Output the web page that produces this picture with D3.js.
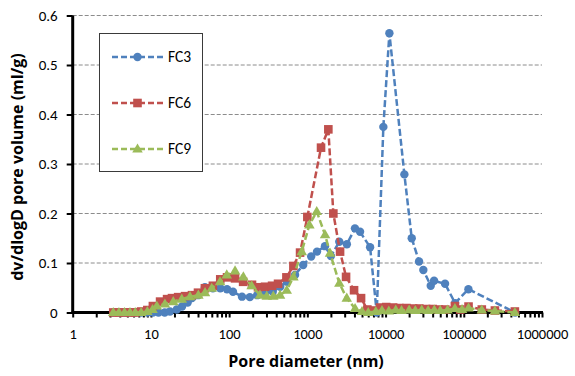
<!DOCTYPE html>
<html><head><meta charset="utf-8">
<script src="https://cdn.jsdelivr.net/npm/d3@7"></script>
<style>
body{margin:0;background:#fff;}
svg{display:block;font-family:Carlito,Calibri,Lato,"Open Sans",sans-serif;}
</style></head>
<body><svg id="c" width="575" height="376"></svg>
<script>
const seriesNames = ["FC3", "FC6", "FC9"];
const seriesColors = ["#4F81BD", "#C0504D", "#9BBB59"];

const fc3D = [3.3,3.9,4.6,5.4,6.3,7.5,9.0,10.6,12.5,15.0,17.5,21.4,25.0,29.5,33.5,40,49,62,77,94,112,146,184,228,288,361,450,550,696,885,1120,1330,1680,2000,2560,3200,4060,4720,6340,7710,9370,11190,17400,21600,26800,30400,37800,41700,57600,77400,114600,453000];
const fc3V = [0,0,0,0,0,0,0,0,0,0,0.002,0.006,0.012,0.02,0.029,0.035,0.051,0.049,0.049,0.047,0.042,0.032,0.031,0.035,0.039,0.042,0.052,0.062,0.076,0.096,0.113,0.123,0.134,0.114,0.143,0.138,0.17,0.163,0.132,0,0.375,0.564,0.279,0.15,0.103,0.086,0.054,0.064,0.058,0.019,0.047,0];

const fc6D = [3.3,3.9,4.6,5.4,6.3,7.5,9.0,10.6,13.1,16.1,18.6,22.3,27.3,33.5,40,49,62,77,94,119,151,196,234,288,354,422,540,663,807,1000,1496,1855,2150,2620,3125,3955,4860,5850,7000,8500,10200,12500,15000,18500,22500,27000,33000,40000,48000,58000,77000,90000,115000,170000,250000,450000];
const fc6V = [0,0,0,0,0,0.002,0.005,0.013,0.022,0.027,0.029,0.031,0.033,0.035,0.04,0.049,0.054,0.067,0.071,0.069,0.062,0.056,0.051,0.052,0.054,0.058,0.071,0.094,0.121,0.193,0.333,0.37,0.2,0.123,0.072,0.045,0.029,0.006,0.004,0.01,0.011,0.01,0.009,0.009,0.008,0.008,0.007,0.007,0.006,0.006,0.013,0.006,0.012,0.006,0.004,0.002];

const fc9D = [3.3,3.9,4.6,5.4,6.3,7.5,9.0,10.5,11.9,15.1,19.3,24.8,31.6,40.4,49.2,59.9,76.5,93.2,119,152,194,248,303,367,448,545,663,848,1062,1318,1684,1950,2565,3190,4075,5000,6000,7500,9000,11000,13500,16000,20000,24000,29000,35000,42000,50000,62000,77000,95000,115000,170000,250000,450000];
const fc9V = [0,0,0,0,0,0,0.002,0.006,0.013,0.017,0.022,0.027,0.032,0.035,0.04,0.049,0.062,0.076,0.084,0.072,0.054,0.035,0.033,0.033,0.035,0.045,0.072,0.123,0.177,0.204,0.157,0.12,0.059,0.029,0.008,0.002,0,0.002,0.004,0.003,0.005,0.004,0.005,0.004,0.005,0.004,0.005,0.004,0.005,0.008,0.006,0.009,0.005,0.003,0];

const xMajorTicks = [1,10,100,1000,10000,100000,1000000];
const xTickLabels = ["1","10","100","1000","10000","100000","1000000"];
const yTicks = [0,0.1,0.2,0.3,0.4,0.5,0.6];
const yTickLabels = ["0","0.1","0.2","0.3","0.4","0.5","0.6"];
const xTitle = "Pore diameter (nm)";
const yTitle = "dv/dlogD pore volume (ml/g)";

const svg = d3.select("#c");
const L = 72.7, R = 542, T = 15.5, B = 312.5;
const x = d3.scaleLog().domain([1, 1e6]).range([L, R]);
const y = d3.scaleLinear().domain([0, 0.6]).range([B, T]);

// gridlines
svg.append("g").selectAll("line").data(yTicks.slice(1)).join("line")
  .attr("x1", L).attr("x2", R).attr("y1", d => y(d)).attr("y2", d => y(d))
  .attr("stroke", "#8c8c8c").attr("stroke-width", 1).attr("stroke-dasharray", "4,2");

// minor ticks list
const allTicks = [];
for (let e = 0; e < 6; e++) for (let m = 1; m < 10; m++) allTicks.push(m * Math.pow(10, e));
allTicks.push(1e6);

const xAxis = d3.axisBottom(x).tickValues(allTicks).tickSize(5).tickPadding(11)
  .tickFormat(d => { const i = xMajorTicks.indexOf(d); return i >= 0 ? xTickLabels[i] : ""; });
const gx = svg.append("g").attr("transform", `translate(0,${B})`).call(xAxis);
gx.select(".domain").attr("stroke", "#000").attr("stroke-width", 3).attr("d", `M${L-1},0H${R+1}`);
gx.selectAll(".tick line").attr("stroke", "#000").attr("stroke-width", 2);
gx.selectAll(".tick text").attr("font-size", 14.5).attr("fill", "#000").attr("font-family", "Carlito,Calibri,Lato,sans-serif");

const yAxis = d3.axisLeft(y).tickValues(yTicks).tickSize(6).tickPadding(9)
  .tickFormat((d, i) => yTickLabels[i]);
const gy = svg.append("g").attr("transform", `translate(${L},0)`).call(yAxis);
gy.select(".domain").attr("stroke", "#000").attr("stroke-width", 3).attr("d", `M0,${B+1}V${T}`);
gy.selectAll(".tick line").attr("stroke", "#000").attr("stroke-width", 2);
gy.selectAll(".tick text").attr("font-size", 15).attr("fill", "#000").attr("font-family", "Carlito,Calibri,Lato,sans-serif");

// titles
svg.append("text").attr("x", 306).attr("y", 367).attr("text-anchor", "middle")
  .attr("font-family", "'Open Sans',sans-serif")
  .attr("font-size", 16).attr("font-weight", "bold").text(xTitle);
svg.append("text").attr("transform", "translate(23,167) rotate(-90)").attr("text-anchor", "middle")
  .attr("font-family", "'Open Sans',sans-serif")
  .attr("font-size", 16).attr("font-weight", "bold").text(yTitle);

// markers
function marker(g, type, color, cx, cy) {
  if (type === 0) g.append("circle").attr("cx", cx).attr("cy", cy).attr("r", 4.2).attr("fill", color);
  else if (type === 1) g.append("rect").attr("x", cx - 4.3).attr("y", cy - 4.3).attr("width", 8.6).attr("height", 8.6).attr("fill", color);
  else g.append("path").attr("d", d3.symbol().type(d3.symbolTriangle).size(48)()).attr("transform", `translate(${cx},${cy+0.5})`).attr("fill", color);
}

const series = [[fc3D, fc3V], [fc6D, fc6V], [fc9D, fc9V]];
const line = d3.line().x(d => x(d[0])).y(d => y(d[1]));
series.forEach((s, i) => {
  const pts = s[0].map((d, k) => [d, s[1][k]]);
  const g = svg.append("g");
  g.append("path").attr("d", line(pts)).attr("fill", "none").attr("stroke", seriesColors[i])
    .attr("stroke-width", 2.5).attr("stroke-dasharray", "7,3");
  pts.forEach(p => marker(g, i, seriesColors[i], x(p[0]), y(p[1])));
});

// legend
const lg = svg.append("g");
lg.append("rect").attr("x", 99.5).attr("y", 33.5).attr("width", 103).attr("height", 138)
  .attr("fill", "#fff").attr("stroke", "#3a3a3a").attr("stroke-width", 1);
const legY = [57, 103, 149];
seriesNames.forEach((n, i) => {
  lg.append("line").attr("x1", 112).attr("x2", 163).attr("y1", legY[i]).attr("y2", legY[i])
    .attr("stroke", seriesColors[i]).attr("stroke-width", 2.5).attr("stroke-dasharray", "6,3");
  marker(lg, i, seriesColors[i], 137.5, legY[i]);
  lg.append("text").attr("x", 168).attr("y", legY[i]).attr("dy", "0.35em").attr("font-size", 15.5).text(n);
});
</script></body></html>
